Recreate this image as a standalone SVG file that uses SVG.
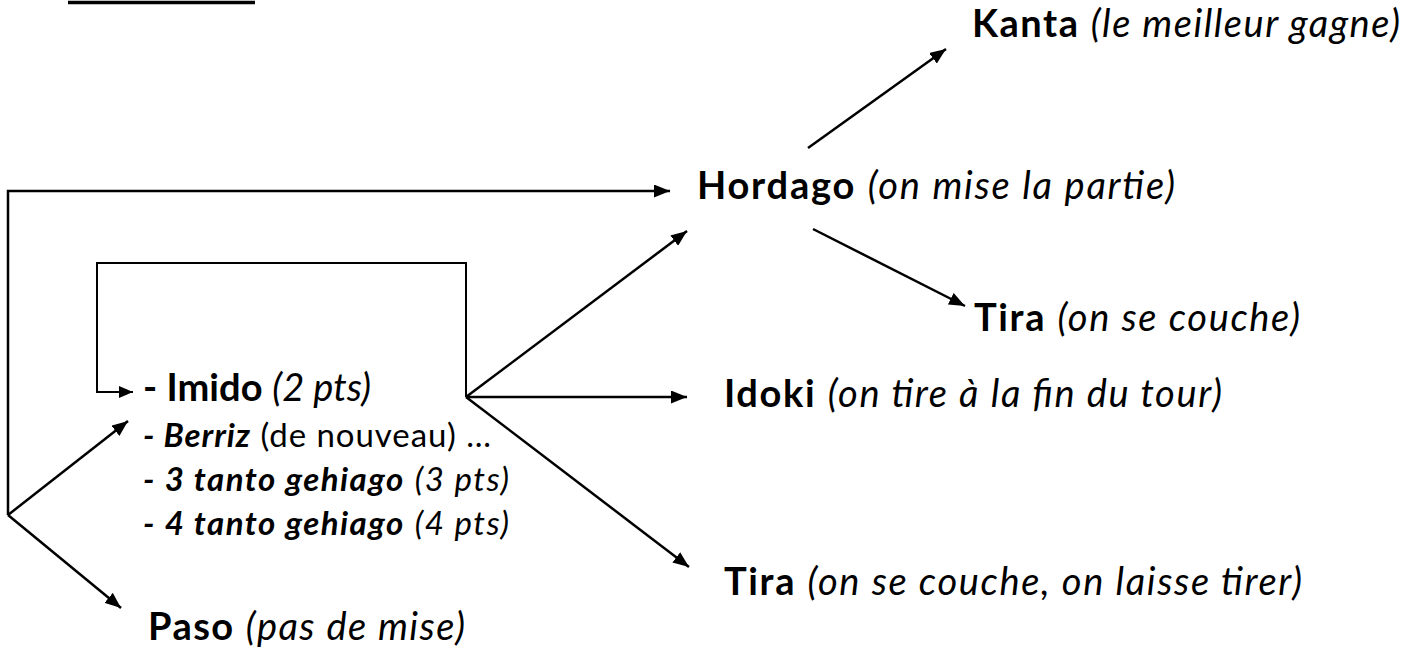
<svg xmlns="http://www.w3.org/2000/svg" width="1421" height="649" viewBox="0 0 1421 649">
<style>
  text { font-family: Lato, "Open Sans", "Liberation Sans", sans-serif; fill: #000; }
  .lbl { font-size: 38px; }
  .sub { font-size: 33px; }
  .b { font-weight: bold; }
  .i { font-style: italic; }
  .bi { font-weight: bold; font-style: italic; }
  .conn { fill: none; stroke: #000; stroke-width: 2.5; }
  .thin { stroke-width: 2; }
</style>
<defs>
  <marker id="ah" markerUnits="userSpaceOnUse" markerWidth="16" markerHeight="13" refX="16" refY="6.5" orient="auto">
    <path d="M0,0 L16,6.5 L0,13 Z" fill="#000"/>
  </marker>
  <marker id="ahs" markerUnits="userSpaceOnUse" markerWidth="14" markerHeight="12" refX="14" refY="6" orient="auto">
    <path d="M0,0 L14,6 L0,12 Z" fill="#000"/>
  </marker>
</defs>
<rect width="1421" height="649" fill="#fff"/>
<line id="title-underline" x1="68" y1="2.5" x2="255" y2="2.5" stroke="#000" stroke-width="3.5"/>
<g id="connectors">
  <path class="conn" d="M8,515 V191 H670" marker-end="url(#ah)"/>
  <line class="conn" x1="8" y1="515" x2="128" y2="421" marker-end="url(#ah)"/>
  <line class="conn" x1="8" y1="515" x2="121" y2="608" marker-end="url(#ah)"/>
  <path class="conn thin" d="M466,397 V263 H97 V392 H133" marker-end="url(#ahs)"/>
  <line class="conn" x1="466" y1="397" x2="687" y2="231" marker-end="url(#ah)"/>
  <line class="conn" x1="466" y1="397" x2="687" y2="397" marker-end="url(#ah)"/>
  <line class="conn" x1="466" y1="397" x2="689" y2="567" marker-end="url(#ah)"/>
  <line class="conn" x1="808" y1="148" x2="946" y2="49" marker-end="url(#ah)"/>
  <line class="conn" x1="813" y1="229" x2="965" y2="306" marker-end="url(#ah)"/>
</g>
<g id="kanta"><text class="lbl" x="972" y="37" textLength="428"><tspan class="b">Kanta</tspan> <tspan class="i">(le meilleur gagne)</tspan></text></g>
<g id="hordago"><text class="lbl" x="697" y="199" textLength="478"><tspan class="b">Hordago</tspan> <tspan class="i">(on mise la partie)</tspan></text></g>
<g id="tira-hordago"><text class="lbl" x="974" y="331" textLength="326"><tspan class="b">Tira</tspan> <tspan class="i">(on se couche)</tspan></text></g>
<g id="idoki"><text class="lbl" x="724" y="407" textLength="498"><tspan class="b">Idoki</tspan> <tspan class="i">(on tire à la fin du tour)</tspan></text></g>
<g id="tira"><text class="lbl" x="724" y="595" textLength="578"><tspan class="b">Tira</tspan> <tspan class="i">(on se couche, on laisse tirer)</tspan></text></g>
<g id="mises">
  <text class="lbl" x="143" y="401" textLength="228"><tspan class="b">- Imido</tspan> <tspan class="i">(2 pts)</tspan></text>
  <text class="sub" x="143" y="447" textLength="348"><tspan class="bi">- Berriz</tspan> (de nouveau) …</text>
  <text class="sub" x="143" y="491" textLength="366"><tspan class="bi">- 3 tanto gehiago</tspan> <tspan class="i">(3 pts)</tspan></text>
  <text class="sub" x="143" y="535" textLength="366"><tspan class="bi">- 4 tanto gehiago</tspan> <tspan class="i">(4 pts)</tspan></text>
</g>
<g id="paso"><text class="lbl" x="148" y="640" textLength="317"><tspan class="b">Paso</tspan> <tspan class="i">(pas de mise)</tspan></text></g>
</svg>
